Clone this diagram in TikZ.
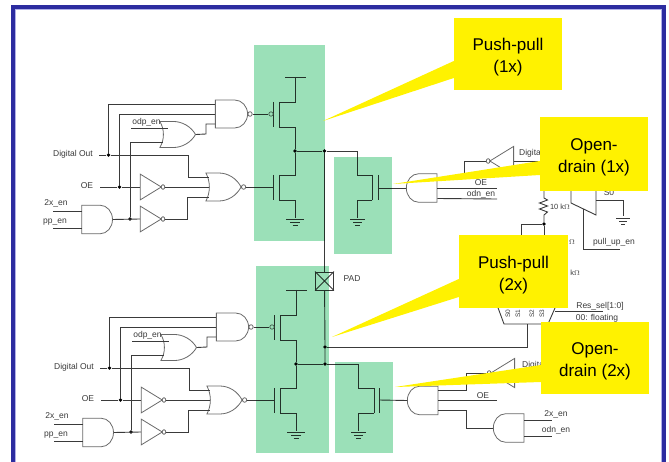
\documentclass[tikz,border=0pt]{standalone}
\usepackage{fontspec}
\setmainfont{Liberation Sans}
\usetikzlibrary{shapes.gates.logic.US}
\definecolor{framecol}{RGB}{44,44,160}
\definecolor{haloCol}{RGB}{176,176,232}
\definecolor{wirecol}{RGB}{58,58,58}
\definecolor{gatecol}{RGB}{105,105,105}
\definecolor{zonecol}{RGB}{155,224,184}
\newcommand{\calltop}{\rule{0pt}{19pt}}
\tikzset{
    driver/.pic={
        % Gates in front of the push-pull pair
        \node [nandg, anchor=west] (nand) at (215,114) {};
        \node [org, anchor=west]   (odp)  at (163,134.5) {};
        \node [norg, anchor=west]  (nor)  at (209,187) {};
        \node [notg, anchor=west]  (inva) at (140,187) {};
        \node [notg, anchor=west]  (invb) at (140,219) {};
        \node [andg, anchor=west]  (ppand) at (81.5,219.5) {};
        % Inputs
        \node [txt] (dout) at (73,154.5) {Digital Out};
        \node [txt] (oe)   at (87,186) {OE};
        \node [txt] (xen)  at (56,203) {2x\_en};
        \node [txt] (ppen) at (55,222) {pp\_en};
        \node [txt] (odpen) at (146.5,122.5) {odp\_en};
        \coordinate (doutend) at (99,155);
        \coordinate (oeend)   at (100,187);
        \coordinate (xend)    at (53,211);
        \coordinate (ppend)   at (53,228);
        \coordinate (odpend)  at (131,128);
        \node [dot] (ddout) at (108.5,155) {};
        \node [dot] (doe)   at (119.5,187) {};
        \node [dot] (dpp)   at (130,219) {};
        \coordinate (stepor)  at (188,177);
        % Transistors
        \coordinate (ngate) at (273,187);
        \coordinate (vdd)   at (295,77);
        \node [dot] (mid) at (295,151) {};
        \coordinate (pupper) at (279,102);
        \coordinate (plower) at (279,127);
        \coordinate (nupper) at (279,175);
        \coordinate (nlower) at (279,200);
        \coordinate (gnd)    at (295,218);
        \draw [wire] (273,102) -- (273,127);
        \draw [wire] (273,175) -- (273,200);
        \draw [wire] (pupper) -- (plower);
        \draw [wire] (nupper) -- (nlower);
        \draw [wire] (285,77) -- (306,77);
        \draw [wire] (vdd) -- (295,102) -- (pupper);
        \draw [wire] (plower) -- (295,127) -- (mid) -- (295,175) -- (nupper);
        \draw [wire] (nlower) -- (295,200) -- (gnd);
        \draw [wire] (286,219) -- (304,219) (290,222.5) -- (300,222.5) (292.5,225.5) -- (297.5,225.5);
        \node [gatecirc] (pbub) at (271,114) {};
        \draw [wire] (nand.output) -- (pbub);
        \draw [wire] (nor.output) -- (ngate);
        % Wires
        \draw [wire] (doutend) -- (ddout) -- (188,155) -- (stepor) -- ([yshift=10pt]nor.west);
        \draw [wire] (ddout) |- ([yshift=10pt]nand.west);
        \draw [wire] (oeend) -- (doe) -- (inva.input);
        \draw [wire] (doe) |- (nand.west);
        \draw [wire] (inva.output) -- (nor.input 2);
        \draw [wire] (invb.output) -- (187,219) |- ([yshift=-10pt]nor.west);
        \draw [wire] (ppand.output) -- (invb.input);
        \draw [wire] (dpp) |- ([yshift=-7.5pt]odp.west);
        \draw [wire] (odpend) -- ([xshift=5pt,yshift=6.5pt]odp.west);
        \draw [wire] (odp.output) -- (206,134) |- ([yshift=-10pt]nand.west);
        \draw [wire] (xend) -- ([yshift=8.5pt]ppand.west);
        \draw [wire] (ppend) -- ([yshift=-8.5pt]ppand.west);
    }
}

\begin{document}
\begin{tikzpicture}[x=1pt, y=-1pt, font=\fontsize{8.5}{10}\selectfont]
    \tikzstyle{wire}     = [wirecol, line width=0.9pt]
    \tikzstyle{gatebase} = [draw=gatecol, line width=0.8pt, inner sep=0pt, logic gate inverted radius=2.3pt]
    \tikzstyle{nandg}    = [nand gate US, gatebase, logic gate inputs=nnn, logic gate input sep=7pt, xscale=0.92]
    \tikzstyle{norg}     = [nor gate US, gatebase, logic gate inputs=nnn, logic gate input sep=7pt, xscale=0.92]
    \tikzstyle{org}      = [or gate US, gatebase, logic gate inputs=nn, logic gate input sep=8.7pt]
    \tikzstyle{andg}     = [and gate US, gatebase, logic gate inputs=nn, logic gate input sep=9.5pt, xscale=0.86]
    \tikzstyle{notg}     = [not gate US, gatebase, minimum height=22pt, minimum width=20pt, xscale=0.78]
    \tikzstyle{dot}      = [circle, fill=black, inner sep=0pt, minimum size=3.8pt]
    \tikzstyle{gatecirc} = [circle, draw=gatecol, line width=0.7pt, inner sep=0pt, minimum size=4.4pt]
    \tikzstyle{txt}      = [text=wirecol, inner sep=0pt]
    \tikzstyle{callout}  = [fill=yellow, text=black, align=center, font=\fontsize{17}{22}\selectfont, inner sep=0pt]
    \useasboundingbox (0,0) rectangle (669,462);

    % Frame
    \draw [haloCol, line width=1pt] (15.5,462) -- (15.5,9.5) -- (661.5,9.5) -- (661.5,462);
    \draw [framecol, line width=4pt] (13,462) -- (13,7) -- (664,7) -- (664,462);

    % Both drivers
    \pic (top) at (0,0) {driver};
    \pic (bot) at (1,213) {driver};

    % Pad
    \node [draw=wirecol, line width=0.9pt, minimum size=18pt, inner sep=0pt] (pad) at (324.5,281) {};
    \draw [wire] (pad.north west) -- (pad.south east) (pad.north east) -- (pad.south west);
    \node [txt] (padlabel) at (352,279) {PAD};
    \node [dot] (topnet) at (324.5,151) {};
    \node [dot] (muxnet) at (325,347) {};
    \node [dot] (botnet) at (325,364) {};
    \draw [wire] (topmid) -- (topnet) -- (pad);
    \draw [wire] (pad) -- (muxnet) -- (botnet);
    \draw [wire] (botmid) -- (botnet);

    % Open drain 1x
    \coordinate (nodaup) at (372,175);
    \coordinate (nodalow) at (372,200);
    \node [andg, rotate=180, anchor=output] (odand) at (406,188) {};
    \node [notg, rotate=180, anchor=output, minimum height=25pt] (odinv) at (486,161) {};
    \node [txt, anchor=west] (digita) at (519,153) {Digital Out};
    \node [txt] (oeb) at (481,183) {OE};
    \node [txt] (odnen) at (481,194) {odn\_en};
    \draw [wire] (378,175) -- (378,200);
    \draw [wire] (nodaup) -- (nodalow);
    \draw [wire] (topnet) -- (357,151) -- (357,175) -- (nodaup);
    \draw [wire] (nodalow) -- (357,200) -- (357,218);
    \draw [wire] (350,219) -- (365,219) (353,222.5) -- (362,222.5) (355,225.5) -- (360,225.5);
    \draw [wire] (378,188) -- (odand.output);
    \draw [wire] (odinv.output) -- (464,161) |- ([yshift=10pt]odand.west);
    \draw [wire] ([yshift=-10.5pt]odand.west) -- (497,199);
    \draw [wire] (odand.west) -- (497,188);
    \draw [wire] (odinv.input) -- (540,161);

    % Pull-up network
    \node [dot] (resdot) at (544,224) {};
    \coordinate (restop) at (544,191);
    \draw [wire] (restop) -- (544,198) -- (547.5,200) -- (539.5,203) -- (547.5,206) -- (539.5,209) -- (547.5,212) -- (544,215) -- (resdot);
    \draw [wire] (resdot) -- (544,236);
    \draw [wire] (resdot) -- (521,224) -- (521,236);
    \node [txt, font=\fontsize{7.5}{9}\selectfont] (resa) at (560,207) {10 k$\Omega$};
    \node [txt, font=\fontsize{7.5}{9}\selectfont] (resb) at (572,242) {$\Omega$};
    \node [txt, font=\fontsize{7.5}{9}\selectfont] (resc) at (575,273) {k$\Omega$};
    \draw [wire] (571,191) -- (571,203) -- (596,215) -- (596,191);
    \draw [wire] (596,200) -- (623,200) -- (623,216);
    \draw [wire] (616,218) -- (630,218) (619,221.5) -- (627,221.5) (621,224.5) -- (625,224.5);
    \draw [wire] (583,209) -- (583,249.5) -- (620,249.5);
    \node [txt] (s0) at (609,193) {S0};
    \node [txt] (pullup) at (614,242) {pull\_up\_en};

    % Resistor selector
    \draw [wire] (497,305) -- (504,324) -- (548,324) -- (555,308);
    \node [txt, rotate=90, font=\fontsize{6.5}{8}\selectfont] (sa) at (508,314) {S0};
    \node [txt, rotate=90, font=\fontsize{6.5}{8}\selectfont] (sb) at (518,314) {S1};
    \node [txt, rotate=90, font=\fontsize{6.5}{8}\selectfont] (sc) at (532,314) {S2};
    \node [txt, rotate=90, font=\fontsize{6.5}{8}\selectfont] (sd) at (542,314) {S3};
    \draw [wire] (555,311.5) -- (603,311.5);
    \node [txt] (ressel) at (600,306.5) {Res\_sel[1:0]};
    \node [txt] (floating) at (597,318) {00: floating};
    \draw [wire] (527,324) -- (527,347) -- (muxnet);

    % Open drain 2x
    \coordinate (nodbup) at (374,388);
    \coordinate (nodblow) at (374,413);
    \node [andg, rotate=180, anchor=output] (obrand) at (407,400.5) {};
    \node [notg, rotate=180, anchor=output, minimum height=25pt] (obinv) at (487,373) {};
    \node [andg, rotate=180, anchor=output] (enand) at (493,428) {};
    \node [txt, anchor=west] (digitb) at (522,365) {Digital Out};
    \node [txt] (oec) at (483,396) {OE};
    \node [txt] (xenb) at (556,414) {2x\_en};
    \node [txt] (odnenb) at (556,430) {odn\_en};
    \draw [wire] (379,388) -- (379,413);
    \draw [wire] (nodbup) -- (nodblow);
    \draw [wire] (botnet) -- (358,364) -- (358,388) -- (nodbup);
    \draw [wire] (nodblow) -- (358,413) -- (358,431);
    \draw [wire] (351,432) -- (366,432) (354,435.5) -- (363,435.5) (356,438.5) -- (361,438.5);
    \draw [wire] (379,400) -- (obrand.output);
    \draw [wire] (obinv.output) -- (466,373) |- ([yshift=10pt]obrand.west);
    \draw [wire] (obrand.west) -- (497,400.5);
    \draw [wire] ([yshift=-10pt]obrand.west) -- (466,410.5) |- (enand.output);
    \draw [wire] ([yshift=8pt]enand.west) -- (552,420);
    \draw [wire] ([yshift=-8pt]enand.west) -- (552,436);
    \draw [wire] (obinv.input) -- (541,373);

    % Highlights
    \begin{scope}[blend mode=multiply]
        \fill [zonecol] (254,45) rectangle (325,241);
        \fill [zonecol] (334,157) rectangle (392,254);
        \fill [zonecol] (256,266) rectangle (329,453);
        \fill [zonecol] (335,362) rectangle (393,453);
    \end{scope}

    % Callouts
    \coordinate (tipa) at (323,121);
    \coordinate (tipb) at (393,184);
    \coordinate (tipc) at (332,337);
    \coordinate (tipd) at (395,387);
    \node [callout, minimum width=108pt, minimum height=72pt] (ppa) at (508,54) {\calltop Push-pull\\(1x)};
    \node [callout, minimum width=108pt, minimum height=74pt] (oda) at (594,154) {\calltop Open-\\drain (1x)};
    \node [callout, minimum width=109pt, minimum height=73pt] (ppb) at (513.5,271.5) {\calltop Push-pull\\(2x)};
    \node [callout, minimum width=108pt, minimum height=72pt] (odb) at (595,358) {\calltop Open-\\drain (2x)};
    \fill [yellow] ([yshift=-7pt]ppa.west) -- (tipa) -- ([yshift=-24pt]ppa.west) -- cycle;
    \fill [yellow] ([yshift=-7pt]oda.west) -- (tipb) -- ([yshift=-21pt]oda.west) -- cycle;
    \fill [yellow] ([yshift=-7.5pt]ppb.west) -- (tipc) -- ([yshift=-25.5pt]ppb.west) -- cycle;
    \fill [yellow] ([yshift=-7pt]odb.west) -- (tipd) -- ([yshift=-24pt]odb.west) -- cycle;
\end{tikzpicture}
\end{document}
